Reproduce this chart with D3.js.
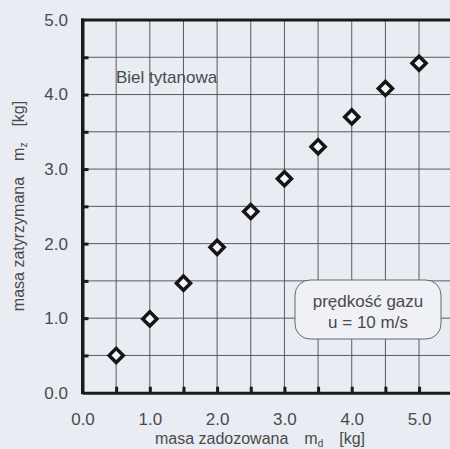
<!DOCTYPE html>
<html><head><meta charset="utf-8">
<script src="https://cdn.jsdelivr.net/npm/d3@7"></script>
<style>
html,body{margin:0;padding:0;background:#e9ecf3;}
svg{display:block;font-family:"Liberation Sans",Arial,sans-serif;}
</style></head>
<body>
<svg id="c" width="450" height="449"></svg>
<script>
const massDosed = [0.5, 1.0, 1.5, 2.0, 2.5, 3.0, 3.5, 4.0, 4.5, 5.0];
const massRetained = [0.50, 0.99, 1.47, 1.95, 2.43, 2.87, 3.30, 3.70, 4.08, 4.42];
const xTicks = [0.5, 1.0, 1.5, 2.0, 2.5, 3.0, 3.5, 4.0, 4.5, 5.0, 5.5];
const yTicks = [0.5, 1.0, 1.5, 2.0, 2.5, 3.0, 3.5, 4.0, 4.5];
const xLabels = [0.0, 1.0, 2.0, 3.0, 4.0, 5.0];
const yLabels = [0.0, 1.0, 2.0, 3.0, 4.0, 5.0];
const materialLabel = "Biel tytanowa";
const boxLines = ["prędkość gazu", "u = 10 m/s"];

const svg = d3.select("#c");
const x = d3.scaleLinear().domain([0, 5.5]).range([82.5, 452.7]);
const y = d3.scaleLinear().domain([0, 5]).range([392.7, 20]);
const textCol = "#4a4a4a";

svg.append("rect").attr("width", 450).attr("height", 449).attr("fill", "#e9ecf3");

// grid
const g = svg.append("g");
g.selectAll(".vg").data(xTicks).join("line")
  .attr("x1", d => x(d)).attr("x2", d => x(d)).attr("y1", y(5)).attr("y2", y(0))
  .attr("stroke", "#4a4a4a").attr("stroke-width", 0.9);
g.selectAll(".hg").data(yTicks).join("line")
  .attr("y1", d => y(d)).attr("y2", d => y(d)).attr("x1", x(0)).attr("x2", 460)
  .attr("stroke", "#4a4a4a").attr("stroke-width", 0.9);

// axes
const fmt = d => d3.format(".1f")(d);
const xAxis = d3.axisBottom(x).tickValues(xTicks).tickSize(-6).tickSizeOuter(0).tickFormat(() => "");
const yAxis = d3.axisLeft(y).tickValues(yTicks).tickSize(-6).tickSizeOuter(0).tickFormat(() => "");
const gx = svg.append("g").attr("transform", `translate(0,${y(0)})`).call(xAxis);
const gy = svg.append("g").attr("transform", `translate(${x(0)},0)`).call(yAxis);
[gx, gy].forEach(a => {
  a.select(".domain").attr("stroke", "#1a1a1a").attr("stroke-width", 3);
  a.selectAll(".tick line").attr("stroke", "#1a1a1a").attr("stroke-width", 3);
});
// label axes (no lines)
const gxl = svg.append("g").attr("transform", `translate(0,${y(0)})`)
  .call(d3.axisBottom(x).tickValues(xLabels).tickSize(0).tickPadding(20).tickFormat(fmt));
const gyl = svg.append("g").attr("transform", `translate(${x(0)},0)`)
  .call(d3.axisLeft(y).tickValues(yLabels).tickSize(0).tickPadding(14.5).tickFormat(fmt));
[gxl, gyl].forEach(a => {
  a.select(".domain").remove();
  a.selectAll("text").attr("font-size", 17).attr("fill", textCol)
    .attr("font-family", "'Liberation Sans',Arial,sans-serif");
});
// top frame line
svg.append("line").attr("x1", x(0) - 1.5).attr("x2", 460).attr("y1", y(5)).attr("y2", y(5))
  .attr("stroke", "#1a1a1a").attr("stroke-width", 3);
svg.append("line").attr("x1", x(0)).attr("x2", x(0)).attr("y1", y(5) - 1.5).attr("y2", y(0) + 1.5)
  .attr("stroke", "#1a1a1a").attr("stroke-width", 3);

// data diamonds
const sym = d3.symbol().type(d3.symbolSquare).size(100);
svg.append("g").selectAll("path").data(massDosed.map((d, i) => [d, massRetained[i]])).join("path")
  .attr("d", sym)
  .attr("transform", d => `translate(${x(d[0])},${y(d[1])}) rotate(45)`)
  .attr("fill", "#f4f5f9").attr("stroke", "#151515").attr("stroke-width", 3.5);

// material label
svg.append("text").attr("x", 116).attr("y", 83).attr("font-size", 17).attr("fill", textCol)
  .text(materialLabel);

// box
svg.append("rect").attr("x", 295).attr("y", 280).attr("width", 146).attr("height", 59)
  .attr("rx", 15).attr("fill", "#eff1f6").attr("stroke", "#666").attr("stroke-width", 1);
svg.append("g").selectAll("text").data(boxLines).join("text")
  .attr("x", 368).attr("y", (d, i) => 307 + i * 21).attr("text-anchor", "middle")
  .attr("font-size", 17).attr("fill", textCol).text(d => d);

// axis titles
const xt = svg.append("text").attr("x", 260).attr("y", 444).attr("text-anchor", "middle")
  .attr("font-size", 16).attr("fill", textCol);
xt.append("tspan").text("masa zadozowana\u2003m");
xt.append("tspan").attr("font-size", 10).attr("dy", 3).text("d");
xt.append("tspan").attr("dy", -3).text("\u2003[kg]");

const yt = svg.append("text").attr("transform", "translate(24,206) rotate(-90)")
  .attr("text-anchor", "middle").attr("font-size", 16).attr("fill", textCol);
yt.append("tspan").text("masa zatyrzymana\u2003m");
yt.append("tspan").attr("font-size", 10).attr("dy", 3).text("z");
yt.append("tspan").attr("dy", -3).text("\u2003[kg]");
</script>
</body></html>
